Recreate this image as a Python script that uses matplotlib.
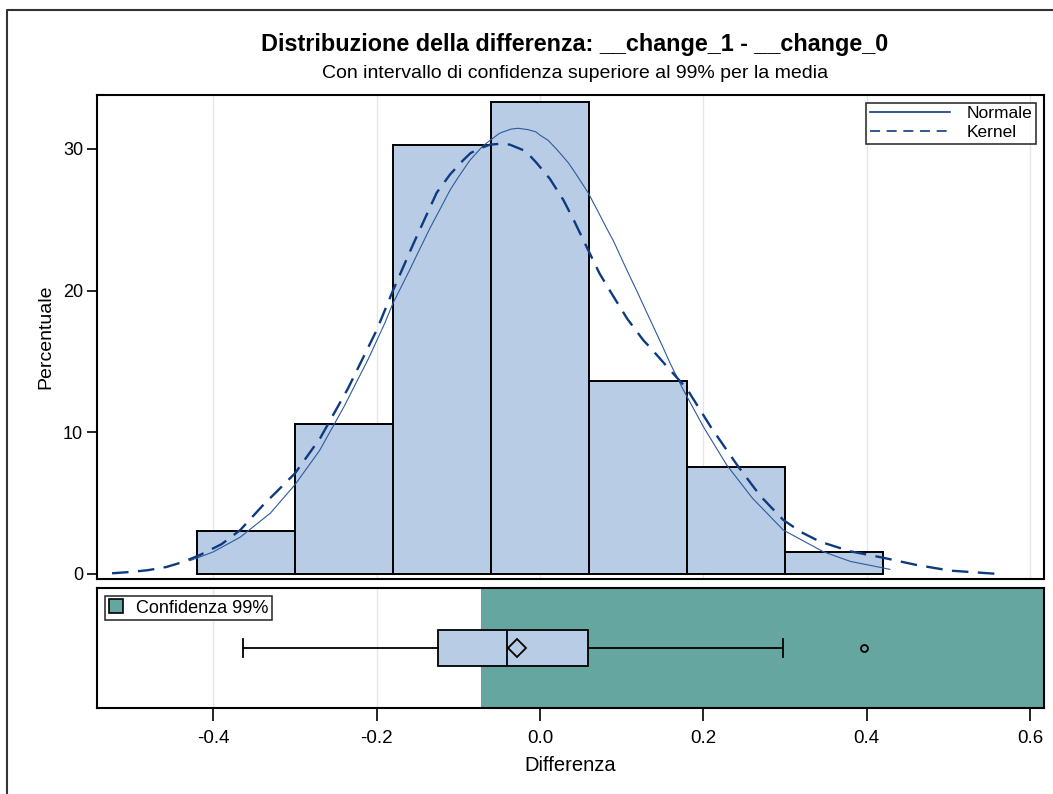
import matplotlib
matplotlib.use("Agg")
import matplotlib.pyplot as plt
from matplotlib.lines import Line2D
from matplotlib.patches import Patch

plt.rcParams['font.family'] = ['Liberation Sans', 'DejaVu Sans']

# ---- data ----
bin_edges = [-0.42, -0.30, -0.18, -0.06, 0.06, 0.18, 0.30, 0.42]
bin_percent = [3.03, 10.61, 30.30, 33.33, 13.64, 7.58, 1.52]

normal_x = [-0.4286, -0.40, -0.367, -0.33, -0.30, -0.27, -0.24, -0.21, -0.19, -0.18,
            -0.16, -0.15, -0.1347, -0.12, -0.11, -0.10, -0.0857, -0.07, -0.061, -0.05,
            -0.045, -0.035, -0.0265, -0.015, -0.005, 0.0, 0.01, 0.02, 0.035, 0.045,
            0.059, 0.07, 0.0816, 0.09, 0.106, 0.12, 0.13, 0.149, 0.16, 0.1755,
            0.20, 0.2286, 0.26, 0.298, 0.347, 0.38, 0.4286]
normal_y = [0.94, 1.56, 2.6, 4.3, 6.3, 8.7, 11.8, 15.2, 17.7, 19.1,
            21.4, 22.6, 24.4, 26.0, 27.1, 28.0, 29.2, 30.2, 30.6, 31.08,
            31.2, 31.4, 31.45, 31.36, 31.2, 30.97, 30.6, 30.0, 29.0, 28.15,
            26.9, 25.7, 24.4, 23.5, 21.5, 19.8, 18.55, 16.2, 14.8, 13.0,
            10.4, 7.7, 5.36, 3.1, 1.57, 0.89, 0.33]

kernel_x = [-0.524, -0.50, -0.48, -0.457, -0.44, -0.4286, -0.416, -0.39, -0.367, -0.34,
            -0.30, -0.269, -0.235, -0.20, -0.18, -0.155, -0.1265, -0.11, -0.094, -0.085,
            -0.075, -0.061, -0.05, -0.037, -0.02, -0.012, -0.004, 0.012, 0.0286, 0.042,
            0.057, 0.073, 0.0898, 0.107, 0.1265, 0.1347, 0.15, 0.167, 0.1796, 0.21,
            0.2429, 0.27, 0.298, 0.32, 0.343, 0.38, 0.42, 0.46, 0.502, 0.557]
kernel_y = [0.05, 0.15, 0.27, 0.5, 0.8, 1.05, 1.35, 2.1, 3.1, 4.8,
            7.1, 9.6, 13.1, 17.2, 20.0, 23.3, 26.9, 28.2, 29.2, 29.7,
            30.0, 30.3, 30.35, 30.3, 29.9, 29.5, 29.0, 27.9, 26.4, 24.9,
            23.1, 21.2, 19.6, 18.0, 16.5, 16.0, 15.0, 13.9, 13.1, 10.3,
            7.57, 5.5, 3.81, 2.95, 2.28, 1.6, 1.15, 0.65, 0.24, 0.02]

whisker_low, q1, median, q3, whisker_high = -0.364, -0.1245, -0.0408, 0.0592, 0.298
mean_diff = -0.0278
outliers = [0.3967]
conf_lower = -0.0722

x_ticks = [-0.4, -0.2, 0.0, 0.2, 0.4, 0.6]
x_ticklabels = ["-0.4", "-0.2", "0.0", "0.2", "0.4", "0.6"]
y_ticks = [0, 10, 20, 30]

title = "Distribuzione della differenza: __change_1 - __change_0"
subtitle = "Con intervallo di confidenza superiore al 99% per la media"

# ---- styling ----
bar_color = "#B8CDE5"
teal = "#66A6A0"
navy = "#0E3B80"
xlim = (-0.5424, 0.6172)

fig = plt.figure(figsize=(10.53, 7.94), dpi=100)
W, H = 1053, 794

def box(l, t, r, b):
    return [l / W, 1 - b / H, (r - l) / W, (b - t) / H]

ax = fig.add_axes(box(97, 95, 1044, 579))
ax2 = fig.add_axes(box(97, 587.7, 1044, 708))

# histogram
widths = [bin_edges[i + 1] - bin_edges[i] for i in range(len(bin_percent))]
ax.bar(bin_edges[:-1], bin_percent, width=widths, align='edge', color=bar_color,
       edgecolor='black', linewidth=1.4, zorder=2)
ax.plot(normal_x, normal_y, color='#2E5A9E', linewidth=0.8, zorder=3)
ax.plot(kernel_x, kernel_y, color=navy, linewidth=1.7, dashes=(7, 4), zorder=3)

ax.set_xlim(*xlim)
ax.set_ylim(-0.353, 33.8)
ax.set_xticks(x_ticks)
ax.tick_params(axis='x', which='both', bottom=False, labelbottom=False)
ax.set_yticks(y_ticks)
ax.set_yticklabels([str(v) for v in y_ticks], fontsize=13)
ax.tick_params(axis='y', length=7, width=1.2, pad=3)
ax.grid(axis='x', color='#E6E6E6', linewidth=1.0, zorder=0)
ax.set_axisbelow(True)
for s in ax.spines.values():
    s.set_linewidth(1.5)
ax.set_ylabel("Percentuale", fontsize=14, labelpad=6)

leg_handles = [Line2D([0], [0], color=navy, linewidth=1.2),
               Line2D([0], [0], color=navy, linewidth=1.2, dashes=(6, 4))]
leg = ax.legend(leg_handles, ["Normale", "Kernel"], loc='upper right', fontsize=12.5,
                frameon=True, fancybox=False, edgecolor='black', handlelength=4.6,
                borderaxespad=0.45, borderpad=0.2, labelspacing=0.2, handletextpad=1.0)
leg.get_frame().set_linewidth(1.2)

# lower box-plot panel
ax2.set_xlim(*xlim)
ax2.set_ylim(0, 1)
ax2.axvspan(conf_lower, xlim[1], color=teal, zorder=1, linewidth=0)
ax2.grid(axis='x', color='#E6E6E6', linewidth=1.0, zorder=0)
ax2.set_axisbelow(True)
bp = ax2.boxplot([[whisker_low, q1, median, q3, whisker_high]], vert=False, positions=[0.5],
                 widths=0.3, whis=(0, 100), patch_artist=True, showfliers=False,
                 manage_ticks=False, zorder=3)
for b in bp['boxes']:
    b.set_facecolor(bar_color); b.set_edgecolor('black'); b.set_linewidth(1.3)
for k in ('whiskers', 'caps', 'medians'):
    for l in bp[k]:
        l.set_color('black'); l.set_linewidth(1.3)
for c in bp['caps']:
    c.set_ydata([0.425, 0.575])
ax2.plot([mean_diff], [0.5], marker='D', markersize=9, markerfacecolor='none',
         markeredgecolor='black', markeredgewidth=1.3, zorder=4)
ax2.plot(outliers, [0.5] * len(outliers), marker='o', markersize=5, linestyle='none',
         markerfacecolor='none', markeredgecolor='black', markeredgewidth=1.3, zorder=4)
ax2.set_yticks([])
ax2.set_xticks(x_ticks)
ax2.set_xticklabels(x_ticklabels, fontsize=13.5)
ax2.tick_params(axis='x', length=9, width=1.2, pad=7)
for s in ax2.spines.values():
    s.set_linewidth(1.5)
ax2.set_xlabel("Differenza", fontsize=14.5, labelpad=6)
leg2 = ax2.legend([Patch(facecolor=teal, edgecolor='black', linewidth=1.2)],
                  ["Confidenza 99%"], loc='upper left', fontsize=13, frameon=True,
                  fancybox=False, edgecolor='black', handlelength=0.8, handleheight=0.8,
                  borderaxespad=0.45, borderpad=0.2, handletextpad=0.7)
leg2.get_frame().set_linewidth(1.2)

# titles
fig.text(575 / W, 1 - 45 / H, title, ha='center', va='center', fontsize=16.8,
         fontweight='bold')
fig.text(575 / W, 1 - 73 / H, subtitle, ha='center', va='center', fontsize=14)

# outer frame (cropped)
fig.add_artist(Line2D([7 / W, 7 / W, 1.0], [0.0, 1 - 10 / H, 1 - 10 / H],
                      transform=fig.transFigure, color='#333333', linewidth=1.5))

fig.savefig("out.png", dpi=100)
